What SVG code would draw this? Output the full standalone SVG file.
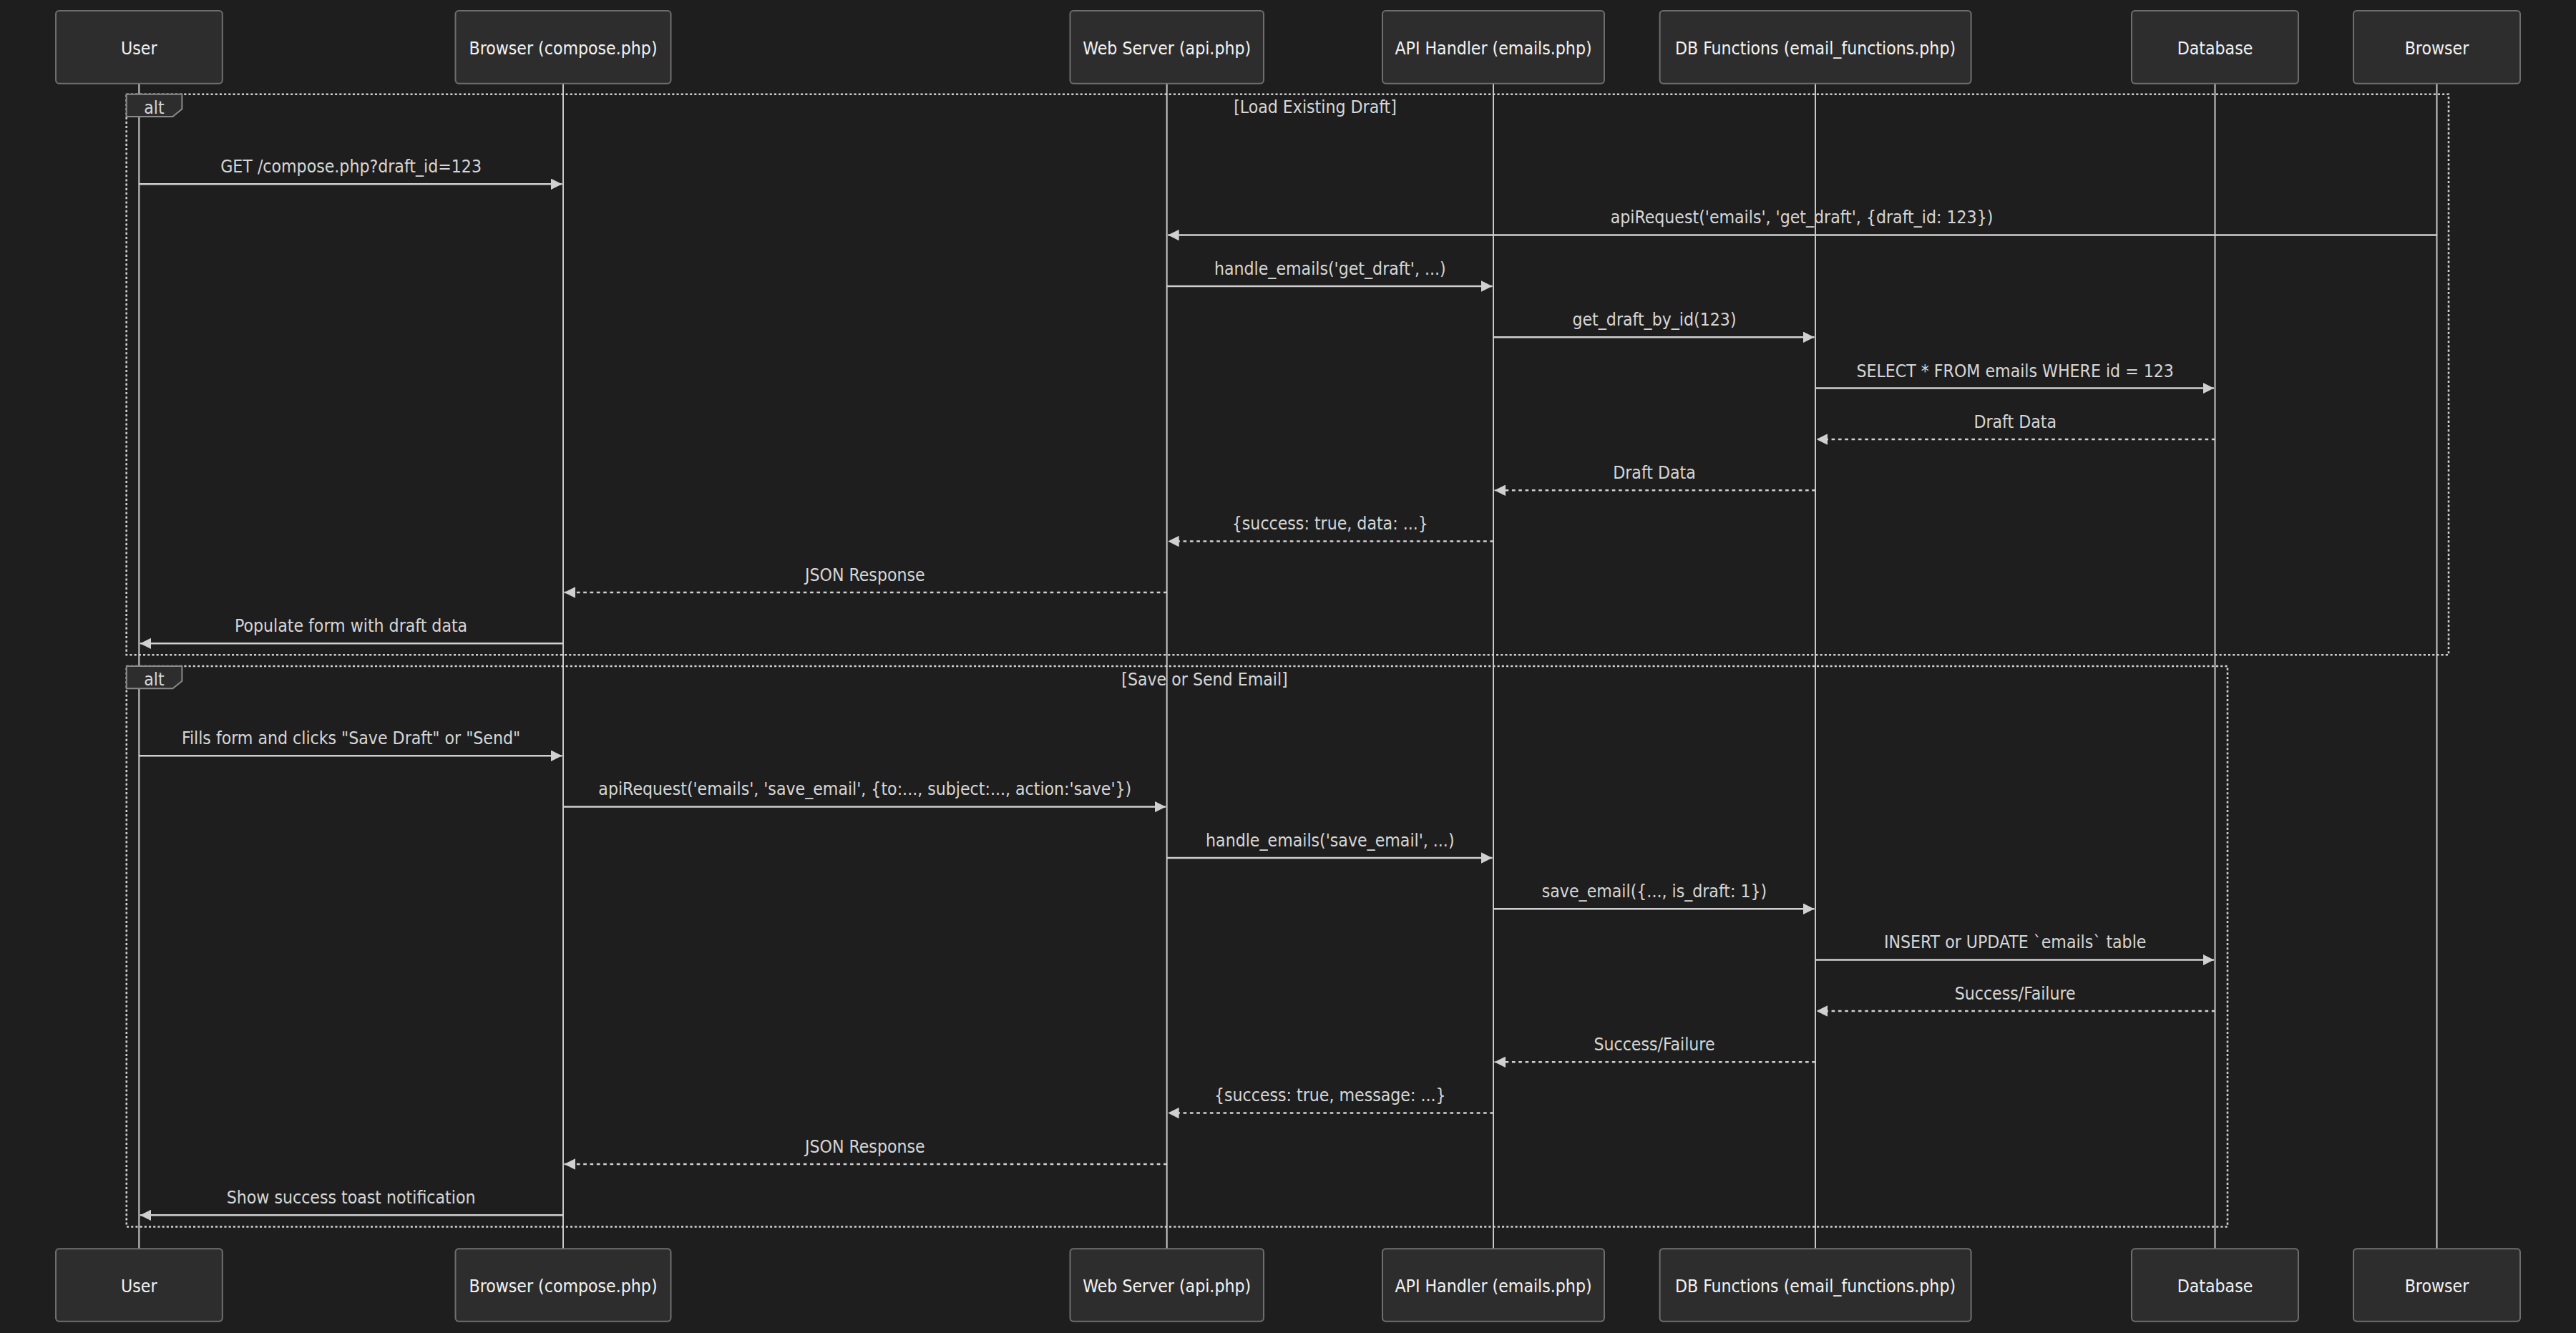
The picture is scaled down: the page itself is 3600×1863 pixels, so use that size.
<svg xmlns="http://www.w3.org/2000/svg" width="3600" height="1863" viewBox="0 0 3600 1863">
<defs>
<style>
.actor{fill:#2d2d2d;stroke:#6e6e6e;stroke-width:2}
.atext{font-family:"DejaVu Sans Condensed","DejaVu Sans","Liberation Sans",sans-serif;font-stretch:condensed;font-size:24.6px;fill:#f2f2f2;text-anchor:middle}
.life{stroke:#c8c8c8;stroke-width:2}
.msg{fill:none;stroke:#d0d0d0;stroke-width:2.5}
.dot{stroke-dasharray:4.66 4.66}
.mtext{font-family:"DejaVu Sans Condensed","DejaVu Sans","Liberation Sans",sans-serif;font-stretch:condensed;font-size:24.6px;fill:#d6d6d6;text-anchor:middle}
.loop{fill:none;stroke:#cfcfcf;stroke-width:2.6;stroke-dasharray:3.1 3.1}
.lbox{fill:#2d2d2d;stroke:#8a8a8a;stroke-width:2}
.ltext{font-family:"DejaVu Sans Condensed","DejaVu Sans","Liberation Sans",sans-serif;font-stretch:condensed;font-size:24.6px;fill:#d6d6d6;text-anchor:middle}
</style>
<marker id="ah" viewBox="0 0 10 10" refX="10" refY="5" markerUnits="userSpaceOnUse" markerWidth="15.5" markerHeight="15.5" orient="auto">
<path d="M0,0 L10,5 L0,10 z" fill="#d0d0d0"/>
</marker>
</defs>
<rect x="0" y="0" width="3600" height="1863" fill="#1e1e1e"/>

<g id="actor-user">
<line class="life" x1="194.3" y1="116.7" x2="194.3" y2="1745.3"/>
<rect class="actor" x="78" y="15" width="232.8" height="101.7" rx="4.6"/>
<text class="atext" x="194.3" y="76">User</text>
<rect class="actor" x="78" y="1745.3" width="232.8" height="101.4" rx="4.6"/>
<text class="atext" x="194.3" y="1806">User</text>
</g>
<g id="actor-browser-compose">
<line class="life" x1="787" y1="116.7" x2="787" y2="1745.3"/>
<rect class="actor" x="636.5" y="15" width="301" height="101.7" rx="4.6"/>
<text class="atext" x="787" y="76">Browser (compose.php)</text>
<rect class="actor" x="636.5" y="1745.3" width="301" height="101.4" rx="4.6"/>
<text class="atext" x="787" y="1806">Browser (compose.php)</text>
</g>
<g id="actor-webserver">
<line class="life" x1="1630.7" y1="116.7" x2="1630.7" y2="1745.3"/>
<rect class="actor" x="1495.5" y="15" width="270.5" height="101.7" rx="4.6"/>
<text class="atext" x="1630.7" y="76">Web Server (api.php)</text>
<rect class="actor" x="1495.5" y="1745.3" width="270.5" height="101.4" rx="4.6"/>
<text class="atext" x="1630.7" y="1806">Web Server (api.php)</text>
</g>
<g id="actor-apihandler">
<line class="life" x1="2087" y1="116.7" x2="2087" y2="1745.3"/>
<rect class="actor" x="1932" y="15" width="310" height="101.7" rx="4.6"/>
<text class="atext" x="2087" y="76">API Handler (emails.php)</text>
<rect class="actor" x="1932" y="1745.3" width="310" height="101.4" rx="4.6"/>
<text class="atext" x="2087" y="1806">API Handler (emails.php)</text>
</g>
<g id="actor-dbfunctions">
<line class="life" x1="2537" y1="116.7" x2="2537" y2="1745.3"/>
<rect class="actor" x="2319.6" y="15" width="435" height="101.7" rx="4.6"/>
<text class="atext" x="2537" y="76">DB Functions (email_functions.php)</text>
<rect class="actor" x="2319.6" y="1745.3" width="435" height="101.4" rx="4.6"/>
<text class="atext" x="2537" y="1806">DB Functions (email_functions.php)</text>
</g>
<g id="actor-database">
<line class="life" x1="3095.5" y1="116.7" x2="3095.5" y2="1745.3"/>
<rect class="actor" x="2979" y="15" width="233" height="101.7" rx="4.6"/>
<text class="atext" x="3095.5" y="76">Database</text>
<rect class="actor" x="2979" y="1745.3" width="233" height="101.4" rx="4.6"/>
<text class="atext" x="3095.5" y="1806">Database</text>
</g>
<g id="actor-browser">
<line class="life" x1="3405.5" y1="116.7" x2="3405.5" y2="1745.3"/>
<rect class="actor" x="3289" y="15" width="233" height="101.7" rx="4.6"/>
<text class="atext" x="3405.5" y="76">Browser</text>
<rect class="actor" x="3289" y="1745.3" width="233" height="101.4" rx="4.6"/>
<text class="atext" x="3405.5" y="1806">Browser</text>
</g>

<g id="connectors">
<line class="msg" x1="194.3" y1="257.3" x2="785.5" y2="257.3" marker-end="url(#ah)"/>
<text class="mtext" x="490.6" y="240.8">GET /compose.php?draft_id=123</text>
<line class="msg" x1="3405.5" y1="328.6" x2="1632.2" y2="328.6" marker-end="url(#ah)"/>
<text class="mtext" x="2518" y="312.1">apiRequest('emails', 'get_draft', {draft_id: 123})</text>
<line class="msg" x1="1630.7" y1="400" x2="2085.5" y2="400" marker-end="url(#ah)"/>
<text class="mtext" x="1858.8" y="383.5">handle_emails('get_draft', ...)</text>
<line class="msg" x1="2087" y1="471.3" x2="2535.5" y2="471.3" marker-end="url(#ah)"/>
<text class="mtext" x="2312" y="454.8">get_draft_by_id(123)</text>
<line class="msg" x1="2537" y1="542.6" x2="3094" y2="542.6" marker-end="url(#ah)"/>
<text class="mtext" x="2816.2" y="526.6">SELECT * FROM emails WHERE id = 123</text>
<line class="msg dot" x1="3095.5" y1="614" x2="2538.5" y2="614" marker-end="url(#ah)"/>
<text class="mtext" x="2816.2" y="597.5">Draft Data</text>
<line class="msg dot" x1="2537" y1="685.3" x2="2088.5" y2="685.3" marker-end="url(#ah)"/>
<text class="mtext" x="2312" y="668.8">Draft Data</text>
<line class="msg dot" x1="2087" y1="756.6" x2="1632.2" y2="756.6" marker-end="url(#ah)"/>
<text class="mtext" x="1858.8" y="740.1">{success: true, data: ...}</text>
<line class="msg dot" x1="1630.7" y1="828" x2="788.5" y2="828" marker-end="url(#ah)"/>
<text class="mtext" x="1208.8" y="811.5">JSON Response</text>
<line class="msg" x1="787" y1="899.3" x2="195.8" y2="899.3" marker-end="url(#ah)"/>
<text class="mtext" x="490.6" y="882.8">Populate form with draft data</text>

<line class="msg" x1="194.3" y1="1056.3" x2="785.5" y2="1056.3" marker-end="url(#ah)"/>
<text class="mtext" x="490.6" y="1039.8">Fills form and clicks "Save Draft" or "Send"</text>
<line class="msg" x1="787" y1="1127.6" x2="1629.2" y2="1127.6" marker-end="url(#ah)"/>
<text class="mtext" x="1208.8" y="1111.1">apiRequest('emails', 'save_email', {to:..., subject:..., action:'save'})</text>
<line class="msg" x1="1630.7" y1="1199" x2="2085.5" y2="1199" marker-end="url(#ah)"/>
<text class="mtext" x="1858.8" y="1182.5">handle_emails('save_email', ...)</text>
<line class="msg" x1="2087" y1="1270.3" x2="2535.5" y2="1270.3" marker-end="url(#ah)"/>
<text class="mtext" x="2312" y="1253.8">save_email({..., is_draft: 1})</text>
<line class="msg" x1="2537" y1="1341.6" x2="3094" y2="1341.6" marker-end="url(#ah)"/>
<text class="mtext" x="2816.2" y="1325.1">INSERT or UPDATE `emails` table</text>
<line class="msg dot" x1="3095.5" y1="1413" x2="2538.5" y2="1413" marker-end="url(#ah)"/>
<text class="mtext" x="2816.2" y="1396.5">Success/Failure</text>
<line class="msg dot" x1="2537" y1="1484.3" x2="2088.5" y2="1484.3" marker-end="url(#ah)"/>
<text class="mtext" x="2312" y="1467.8">Success/Failure</text>
<line class="msg dot" x1="2087" y1="1555.6" x2="1632.2" y2="1555.6" marker-end="url(#ah)"/>
<text class="mtext" x="1858.8" y="1539.1">{success: true, message: ...}</text>
<line class="msg dot" x1="1630.7" y1="1627" x2="788.5" y2="1627" marker-end="url(#ah)"/>
<text class="mtext" x="1208.8" y="1610.5">JSON Response</text>
<line class="msg" x1="787" y1="1698.3" x2="195.8" y2="1698.3" marker-end="url(#ah)"/>
<text class="mtext" x="490.6" y="1681.8">Show success toast notification</text>
</g>

<g id="alt-load-draft">
<rect class="loop" x="176.7" y="131.7" width="3245.3" height="783.6"/>
<polygon class="lbox" points="176.7,131.7 254.4,131.7 254.4,152.4 241.4,163 176.7,163"/>
<text class="ltext" x="215.5" y="159">alt</text>
<text class="ltext" x="1838" y="158">[Load Existing Draft]</text>
</g>
<g id="alt-save-send">
<rect class="loop" x="176.8" y="931" width="2936.2" height="783.5"/>
<polygon class="lbox" points="176.8,931 254.4,931 254.4,951.7 241.4,962.3 176.8,962.3"/>
<text class="ltext" x="215.5" y="958.3">alt</text>
<text class="ltext" x="1683.5" y="957.5">[Save or Send Email]</text>
</g>
</svg>
